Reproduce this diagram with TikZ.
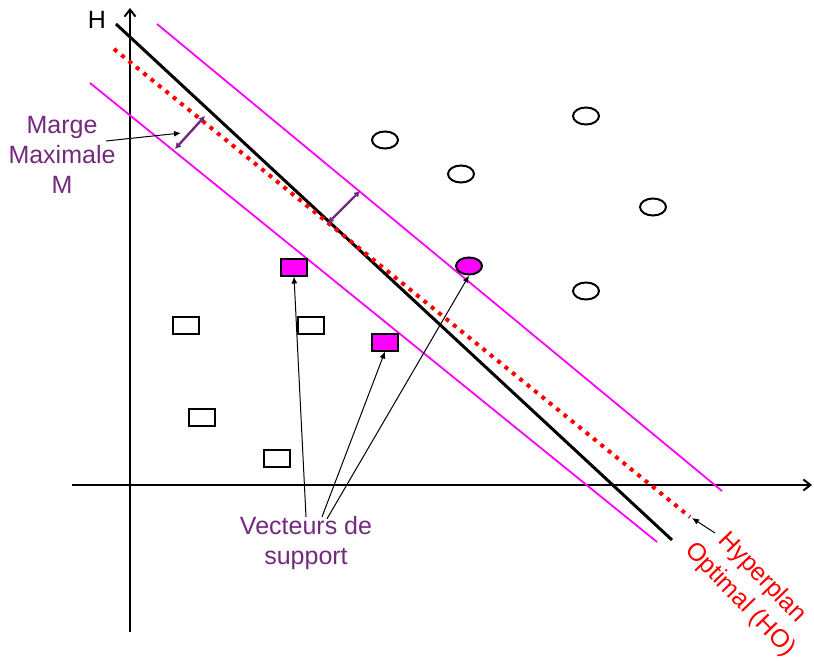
\documentclass[tikz,border=0pt]{standalone}
\usepackage{fontspec}
\setmainfont{Liberation Sans}
\usetikzlibrary{arrows.meta,positioning,shapes.geometric}
\definecolor{hmagenta}{HTML}{FF00FF}
\definecolor{hpurple}{HTML}{722A7C}
\definecolor{hred}{HTML}{FF0000}

\begin{document}
\begin{tikzpicture}[x=1pt,y=-1pt,
  axis/.style={line width=2pt,-{Straight Barb[length=7pt,width=11pt]}},
  margin/.style={draw=hmagenta,line width=1.8pt},
  classA/.style={draw,line width=2pt,minimum width=26pt,minimum height=17pt,inner sep=0pt},
  classB/.style={ellipse,draw,line width=2pt,minimum width=26pt,minimum height=17pt,inner sep=0pt},
  supp/.style={fill=hmagenta},
  label/.style={text=hpurple,font=\fontsize{25}{30}\selectfont,align=center},
  pointer/.style={-{Latex[length=7pt,width=6pt]},line width=1pt},
  gap/.style={{Latex[length=6pt,width=7pt]}-{Latex[length=6pt,width=7pt]},line width=2.4pt,draw=hpurple}
]
\useasboundingbox (0,0) rectangle (814,661);
% axes
\draw[axis] (130,632) -- (130,8);
\draw[axis] (72,485) -- (812,485);
% hyperplanes
\coordinate (m1a) at (157,24);  \coordinate (m1b) at (722,491);
\coordinate (m2a) at (90,83);   \coordinate (m2b) at (657,542);
\coordinate (ha) at (116,24);   \coordinate (hb) at (672,540);
\coordinate (oa) at (114,49);   \coordinate (ob) at (690,517);
\draw[margin] (m1a) -- (m1b);
\draw[margin] (m2a) -- (m2b);
\draw[line width=3pt] (ha) -- (hb);
\draw[hred,line width=4pt,dash pattern=on 4pt off 5.5pt] (oa) -- (ob);
\node[font=\fontsize{25}{28}\selectfont] (H) at (97,20) {H};
% points
\node[classA] (a1) at (186,325) {};
\node[classA] (a2) at (311,325) {};
\node[classA] (a3) at (202,417) {};
\node[classA] (a4) at (277,458) {};
\node[classA,supp] (s1) at (294,267) {};
\node[classA,supp] (s2) at (385,342) {};
\node[classB] (b1) at (385,140) {};
\node[classB] (b2) at (461,174) {};
\node[classB] (b3) at (586,116) {};
\node[classB] (b4) at (653,207) {};
\node[classB] (b5) at (586,291) {};
\node[classB,supp] (s3) at (469,266) {};
% margin
\coordinate (g1a) at (175,149); \coordinate (g1b) at (205,116);
\coordinate (g2a) at (328,223); \coordinate (g2b) at (360,191);
\draw[gap] (g1a) -- (g1b);
\draw[gap] (g2a) -- (g2b);
\node[label] (marge) at (62,155) {Marge\\Maximale\\M};
\coordinate (mstart) at (106,141);
\coordinate (mtip) at (181,133);
\draw[pointer] (mstart) -- (mtip);
% support vectors
\node[label] (vect) at (306,543) {Vecteurs de\\support};
\draw[pointer] ([xshift=0pt,yshift=-4pt]vect.north) -- (s1.south);
\draw[pointer] ([xshift=16pt,yshift=-4pt]vect.north) -- (s2.south);
\draw[pointer] ([xshift=21pt,yshift=-6pt]vect.north) -- (s3.south);
% optimal hyperplane
\node[text=hred,font=\fontsize{25}{31}\selectfont,align=center,rotate=-46] (ho) at (751,589) {Hyperplan\\Optimal (HO)};
\coordinate (ostart) at (715,533);
\coordinate (otip) at (692,518);
\draw[pointer] (ostart) -- (otip);
\end{tikzpicture}
\end{document}
